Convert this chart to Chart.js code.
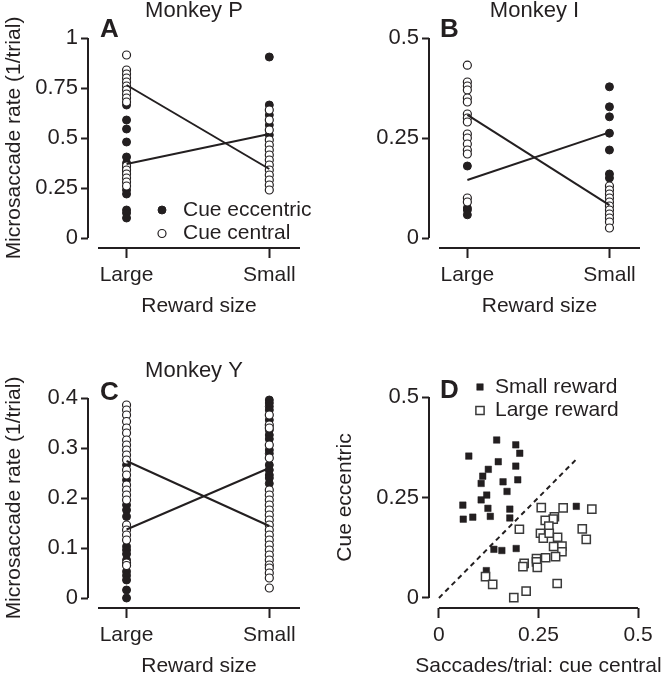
<!DOCTYPE html>
<html>
<head>
<meta charset="utf-8">
<script src="https://cdn.jsdelivr.net/npm/chart.js@4"></script>
<style>
  html, body { margin: 0; padding: 0; background: #fff; }
  #page { position: relative; width: 669px; height: 678px; overflow: hidden; }
  canvas { position: absolute; }
</style>
</head>
<body>
<div id="page">
  <canvas id="chartA" width="335" height="330" style="left:0;top:0"></canvas>
  <canvas id="chartB" width="334" height="330" style="left:335px;top:0"></canvas>
  <canvas id="chartC" width="335" height="348" style="left:0;top:330px"></canvas>
  <canvas id="chartD" width="334" height="348" style="left:335px;top:330px"></canvas>
</div>
<script>
// ---- data ----
const rewardSizes = ['Large', 'Small'];
const cueLegend = ['Cue eccentric', 'Cue central'];
const rewardLegend = ['Small reward', 'Large reward'];

// A: Monkey P
const yTicksA = [0, 0.25, 0.5, 0.75, 1];
const largeEccA = [0.665, 0.59, 0.545, 0.48, 0.405, 0.375, 0.35, 0.33, 0.24, 0.22, 0.14, 0.125, 0.10];
const largeCenA = [0.915, 0.84, 0.82, 0.80, 0.78, 0.76, 0.74, 0.72, 0.70, 0.68, 0.36, 0.34, 0.32, 0.30, 0.28, 0.26];
const smallEccA = [0.905, 0.665, 0.615, 0.565, 0.515];
const smallCenA = [0.64, 0.59, 0.54, 0.49, 0.465, 0.44, 0.415, 0.39, 0.365, 0.34, 0.315, 0.29, 0.265, 0.24];
const meanEccA = [0.37, 0.52];
const meanCenA = [0.765, 0.345];

// B: Monkey I
const yTicksB = [0, 0.25, 0.5];
const largeEccB = [0.18, 0.075, 0.07, 0.058];
const largeCenB = [0.432, 0.39, 0.38, 0.37, 0.35, 0.34, 0.31, 0.30, 0.29, 0.26, 0.25, 0.235, 0.22, 0.21, 0.10, 0.09];
const smallEccB = [0.378, 0.328, 0.303, 0.262, 0.22, 0.16, 0.15];
const smallCenB = [0.13, 0.12, 0.11, 0.10, 0.09, 0.08, 0.07, 0.06, 0.05, 0.04, 0.025];
const meanEccB = [0.145, 0.264];
const meanCenB = [0.308, 0.082];

// C: Monkey Y
const yTicksC = [0, 0.1, 0.2, 0.3, 0.4];
const largeEccC = [0.266, 0.236, 0.186, 0.176, 0.163, 0.103, 0.096, 0.088, 0.076, 0.053, 0.045, 0.036, 0.016, 0.0];
const largeCenC = [0.386, 0.376, 0.366, 0.353, 0.34, 0.33, 0.316, 0.306, 0.296, 0.286, 0.276, 0.256, 0.246, 0.226, 0.216, 0.206, 0.196, 0.146, 0.136, 0.126, 0.116, 0.07, 0.065];
const smallEccC = [0.396, 0.39, 0.383, 0.376, 0.356, 0.336, 0.326, 0.318, 0.296, 0.289, 0.266, 0.256, 0.246, 0.24, 0.229];
const smallCenC = [0.366, 0.346, 0.34, 0.306, 0.28, 0.216, 0.206, 0.196, 0.186, 0.176, 0.166, 0.156, 0.146, 0.136, 0.126, 0.116, 0.106, 0.096, 0.086, 0.076, 0.066, 0.06, 0.05, 0.04, 0.02];
const meanEccC = [0.137, 0.26];
const meanCenC = [0.274, 0.144];

// D: saccades/trial, cue central (x) vs cue eccentric (y)
const axisTicksD = [0, 0.25, 0.5];
const smallRewardX = [0.145, 0.193, 0.203, 0.075, 0.149, 0.193, 0.124, 0.110, 0.198, 0.161, 0.106, 0.171, 0.120, 0.106, 0.060, 0.123, 0.178, 0.345, 0.061, 0.085, 0.129, 0.178, 0.138, 0.158, 0.194, 0.119];
const smallRewardY = [0.393, 0.381, 0.360, 0.353, 0.339, 0.328, 0.320, 0.303, 0.294, 0.289, 0.285, 0.265, 0.256, 0.244, 0.231, 0.223, 0.221, 0.228, 0.196, 0.201, 0.203, 0.199, 0.121, 0.118, 0.123, 0.068];
const largeRewardX = [0.257, 0.312, 0.384, 0.290, 0.287, 0.267, 0.276, 0.202, 0.360, 0.255, 0.262, 0.277, 0.298, 0.370, 0.288, 0.309, 0.309, 0.293, 0.268, 0.245, 0.245, 0.214, 0.211, 0.247, 0.117, 0.135, 0.297, 0.219, 0.188];
const largeRewardY = [0.225, 0.224, 0.221, 0.202, 0.196, 0.193, 0.179, 0.171, 0.172, 0.161, 0.149, 0.161, 0.151, 0.146, 0.128, 0.129, 0.115, 0.103, 0.100, 0.098, 0.090, 0.086, 0.078, 0.076, 0.053, 0.034, 0.036, 0.017, 0.001];
const unityLine = [0, 0.35];

// ---- styling ----
const INK = '#231f20';
const FONT = "'Liberation Sans', Arial, Helvetica, sans-serif";
Chart.defaults.font.family = FONT;
Chart.defaults.font.size = 21;
Chart.defaults.color = INK;

const filledDot = { pointStyle: 'circle', pointRadius: 4, pointBackgroundColor: INK, pointBorderColor: INK, pointBorderWidth: 1 };
const openDot = { pointStyle: 'circle', pointRadius: 4, pointBackgroundColor: '#fff', pointBorderColor: INK, pointBorderWidth: 1.2 };
const filledSq = { pointStyle: 'rect', pointRadius: 4.6, pointBackgroundColor: INK, pointBorderColor: INK, pointBorderWidth: 0.5 };
const openSq = { pointStyle: 'rect', pointRadius: 5.8, pointBackgroundColor: '#fff', pointBorderColor: '#3a3a3a', pointBorderWidth: 1.5 };

const column = (xi, arr) => arr.map(v => ({ x: xi, y: v }));
const pairs = (xs, ys) => xs.map((v, i) => ({ x: v, y: ys[i] }));

function meanLine(arr) {
    return { data: arr.map((v, i) => ({ x: i, y: v })), showLine: true, pointRadius: 0,
             borderColor: INK, borderWidth: 2, clip: false };
}

function cueDatasets(largeEcc, smallEcc, largeCen, smallCen, meanEcc, meanCen) {
    return [
        meanLine(meanEcc),
        meanLine(meanCen),
        Object.assign({ label: cueLegend[1], data: column(0, largeCen).concat(column(1, smallCen)), clip: false }, openDot),
        Object.assign({ label: cueLegend[0], data: column(0, largeEcc).concat(column(1, smallEcc)), clip: false }, filledDot)
    ];
}

function drawMarker(ctx, st, x, y) {
    ctx.fillStyle = st.pointBackgroundColor;
    ctx.strokeStyle = st.pointBorderColor;
    ctx.lineWidth = st.pointBorderWidth;
    ctx.beginPath();
    if (st.pointStyle === 'rect') {
        const s = st.pointRadius * Math.SQRT1_2;
        ctx.rect(x - s, y - s, 2 * s, 2 * s);
    } else {
        ctx.arc(x, y, st.pointRadius, 0, Math.PI * 2);
    }
    ctx.fill();
    if (st.pointBorderWidth) ctx.stroke();
}

// x spine runs from left+10 to the chart's right edge (A-C) or between the end ticks (D)
function xSpine(chart, toTicks) {
    const { chartArea, scales: { x } } = chart;
    if (toTicks) {
        const t = x.ticks;
        return [x.getPixelForValue(t[0].value), x.getPixelForValue(t[t.length - 1].value)];
    }
    return [chartArea.left + 10, chartArea.right];
}

// offset axis lines
const spinePlugin = {
    id: 'spines',
    beforeDatasetsDraw(chart, args, opts) {
        const { ctx, chartArea, scales: { y } } = chart;
        const yt = y.ticks;
        const [x0, x1] = xSpine(chart, opts.toTicks);
        ctx.save();
        ctx.strokeStyle = INK;
        ctx.lineWidth = 2;
        ctx.beginPath();
        ctx.moveTo(chartArea.left, y.getPixelForValue(yt[0].value));
        ctx.lineTo(chartArea.left, y.getPixelForValue(yt[yt.length - 1].value));
        ctx.moveTo(x0, chartArea.bottom);
        ctx.lineTo(x1, chartArea.bottom);
        ctx.stroke();
        ctx.restore();
    }
};

// panel letter, axis titles and legend
const decorPlugin = {
    id: 'decor',
    afterDraw(chart, args, opts) {
        const ctx = chart.ctx;
        const y = chart.scales.y;
        const yt = y.ticks;
        ctx.save();
        ctx.fillStyle = INK;
        ctx.font = `bold 26px ${FONT}`;
        ctx.textBaseline = 'alphabetic';
        ctx.fillText(opts.letter, opts.letterX, opts.letterY);

        ctx.font = `21px ${FONT}`;
        ctx.textBaseline = 'middle';
        ctx.textAlign = 'center';
        const [x0, x1] = xSpine(chart, opts.toTicks);
        ctx.fillText(opts.xTitle, (x0 + x1) / 2, opts.xTitleY);
        if (opts.yTitle) {
            const yc = (y.getPixelForValue(yt[0].value) + y.getPixelForValue(yt[yt.length - 1].value)) / 2;
            ctx.save();
            ctx.translate(opts.yTitleX, yc);
            ctx.rotate(-Math.PI / 2);
            ctx.fillText(opts.yTitle, 0, 0);
            ctx.restore();
        }

        if (opts.legend) {
            const lg = opts.legend;
            ctx.textAlign = 'left';
            lg.items.forEach((it, i) => {
                const yy = lg.y + i * lg.dy;
                drawMarker(ctx, it.style, lg.x, yy);
                ctx.fillStyle = INK;
                ctx.fillText(it.text, lg.x + lg.textGap, yy);
            });
        }
        ctx.restore();
    }
};

function makePanel(id, p) {
    const canvas = document.getElementById(id);
    const H = canvas.height;
    const yt = p.yTicks;
    const ySpan = yt[yt.length - 1] - yt[0];
    p.decor.toTicks = !!p.spineToTicks;
    return new Chart(canvas, {
        type: 'scatter',
        data: { datasets: p.datasets },
        options: {
            responsive: false,
            animation: false,
            events: [],
            layout: { padding: { left: 0, top: p.title ? 0 : p.area.top, right: canvas.width - p.area.right, bottom: 0 } },
            plugins: {
                legend: { display: false },
                tooltip: { enabled: false },
                title: p.title ? {
                    display: true, text: p.title, fullSize: false, color: INK,
                    font: { size: 22, weight: 'normal', lineHeight: 1 },
                    padding: { top: p.titleTop, bottom: p.area.top - p.titleTop - 22 }
                } : { display: false },
                spines: { toTicks: !!p.spineToTicks },
                decor: p.decor
            },
            scales: {
                x: {
                    type: 'linear', min: p.xMin, max: p.xMax,
                    afterBuildTicks: s => { s.ticks = p.xTicks.map(v => ({ value: v })); },
                    afterFit: s => { s.height = H - p.area.bottom; },
                    border: { display: false },
                    grid: { drawOnChartArea: false, drawTicks: true, tickLength: 10, tickWidth: 2, tickColor: INK },
                    ticks: { autoSkip: false, maxRotation: 0, padding: 5, color: INK, font: { size: 21 }, callback: p.xLabel }
                },
                y: {
                    type: 'linear', min: yt[0] - ySpan * 0.05, max: yt[yt.length - 1],
                    afterBuildTicks: s => { s.ticks = yt.map(v => ({ value: v })); },
                    afterFit: s => { s.width = p.area.left; },
                    border: { display: false },
                    grid: { drawOnChartArea: false, drawTicks: true, tickLength: 7, tickWidth: 2, tickColor: INK },
                    ticks: { padding: 3, color: INK, font: { size: 22 }, callback: v => String(v) }
                }
            }
        },
        plugins: [spinePlugin, decorPlugin]
    });
}

const rewardLabel = v => rewardSizes[v];
const yTitleRate = 'Microsaccade rate (1/trial)';
const cueLegendItems = [{ text: cueLegend[0], style: filledDot }, { text: cueLegend[1], style: openDot }];

makePanel('chartA', {
    title: 'Monkey P', titleTop: 0,
    area: { left: 88, right: 300, top: 38, bottom: 248 },
    xMin: -0.27, xMax: 1.215, xTicks: [0, 1], xLabel: rewardLabel,
    yTicks: yTicksA,
    datasets: cueDatasets(largeEccA, smallEccA, largeCenA, smallCenA, meanEccA, meanCenA),
    decor: { letter: 'A', letterX: 100, letterY: 37,
             xTitle: 'Reward size', xTitleY: 306, yTitle: yTitleRate, yTitleX: 14,
             legend: { x: 162, y: 210, dy: 23.5, textGap: 21, items: cueLegendItems } }
});

makePanel('chartB', {
    title: 'Monkey I', titleTop: 0,
    area: { left: 94, right: 305, top: 38, bottom: 248 },
    xMin: -0.27, xMax: 1.215, xTicks: [0, 1], xLabel: rewardLabel,
    yTicks: yTicksB,
    datasets: cueDatasets(largeEccB, smallEccB, largeCenB, smallCenB, meanEccB, meanCenB),
    decor: { letter: 'B', letterX: 105, letterY: 37, xTitle: 'Reward size', xTitleY: 306 }
});

makePanel('chartC', {
    title: 'Monkey Y', titleTop: 30,
    area: { left: 88, right: 300, top: 68, bottom: 278 },
    xMin: -0.27, xMax: 1.215, xTicks: [0, 1], xLabel: rewardLabel,
    yTicks: yTicksC,
    datasets: cueDatasets(largeEccC, smallEccC, largeCenC, smallCenC, meanEccC, meanCenC),
    decor: { letter: 'C', letterX: 100, letterY: 70,
             xTitle: 'Reward size', xTitleY: 336, yTitle: yTitleRate, yTitleX: 14 }
});

makePanel('chartD', {
    area: { left: 94, right: 303, top: 67, bottom: 278 },
    xMin: -0.025, xMax: 0.5, xTicks: axisTicksD, xLabel: v => String(v), spineToTicks: true,
    yTicks: axisTicksD,
    datasets: [
        Object.assign({ label: rewardLegend[1], data: pairs(largeRewardX, largeRewardY), clip: false }, openSq),
        Object.assign({ label: rewardLegend[0], data: pairs(smallRewardX, smallRewardY), clip: false }, filledSq),
        { data: unityLine.map(v => ({ x: v, y: v })), showLine: true, pointRadius: 0,
          borderColor: INK, borderWidth: 2, borderDash: [5, 4] }
    ],
    decor: { letter: 'D', letterX: 105, letterY: 68,
             xTitle: 'Saccades/trial: cue central', xTitleY: 336, yTitle: 'Cue eccentric', yTitleX: 10,
             legend: { x: 145, y: 57, dy: 23.5, textGap: 15,
                       items: [{ text: rewardLegend[0], style: filledSq }, { text: rewardLegend[1], style: openSq }] } }
});
</script>
</body>
</html>
